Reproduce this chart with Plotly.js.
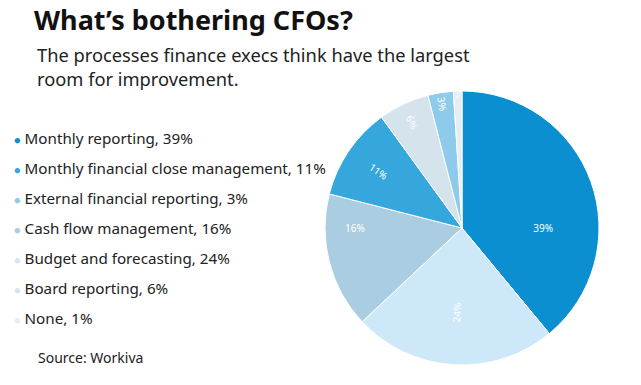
<!DOCTYPE html>
<html>
<head>
<meta charset="utf-8">
<script src="https://cdn.plot.ly/plotly-3.0.1.min.js"></script>
<style>html,body{margin:0;padding:0;background:#fff;}#chart{width:641px;height:385px;}</style>
</head>
<body>
<div id="chart"></div>
<script>
// Data (legend order as in the reference)
const categories = [
  "Monthly reporting",
  "Monthly financial close management",
  "External financial reporting",
  "Cash flow management",
  "Budget and forecasting",
  "Board reporting",
  "None"
];
const shares = [39, 11, 3, 16, 24, 6, 1];
const colors = ["#0b8fd1", "#36a7dd", "#8ecbea", "#abcde2", "#cde8f8", "#d5e3ec", "#e3edf3"];
const subtitleLines = ["The processes finance execs think have the largest", "room for improvement."];

const W = 641, H = 385;
const FONT = "'Noto Sans', Lato, sans-serif";

const pie = {
  type: "pie",
  labels: categories,
  values: shares,
  marker: { colors: colors, line: { color: "#ffffff", width: 1 } },
  sort: true,
  direction: "clockwise",
  rotation: 0,
  textinfo: "percent",
  textposition: "inside",
  insidetextorientation: "radial",
  textfont: { color: "#ffffff", size: 10, family: FONT },
  domain: { x: [325 / W, 599 / W], y: [(H - 365) / H, (H - 91) / H] },
  showlegend: false,
  hoverinfo: "label+percent"
};

const annotations = [];
// Subtitle (two lines, one text block)
annotations.push({
  xref: "paper", yref: "paper", x: 35 / W, y: 1 - 67 / H,
  xanchor: "left", yanchor: "middle", align: "left", showarrow: false,
  text: subtitleLines.join("<br>"),
  font: { family: FONT, size: 18.3, color: "#222222" }
});
// Legend built from the data arrays
categories.forEach((c, i) => {
  annotations.push({
    xref: "paper", yref: "paper", x: 12 / W, y: 1 - (138 + i * 30) / H,
    xanchor: "left", yanchor: "middle", align: "left", showarrow: false,
    text: "<span style='color:" + colors[i] + ";font-size:11px'>●</span> " + c + ", " + shares[i] + "%",
    font: { family: FONT, size: 15.2, color: "#222222" }
  });
});
// Source
annotations.push({
  xref: "paper", yref: "paper", x: 36 / W, y: 1 - 357 / H,
  xanchor: "left", yanchor: "middle", align: "left", showarrow: false,
  text: "Source: Workiva",
  font: { family: FONT, size: 14, color: "#222222" }
});

const layout = {
  width: W, height: H,
  margin: { l: 0, r: 0, t: 0, b: 0 },
  paper_bgcolor: "#ffffff",
  plot_bgcolor: "#ffffff",
  title: {
    text: "<b>What’s bothering CFOs?</b>",
    x: 34 / W, xanchor: "left", xref: "paper",
    y: 1 - 21 / H, yanchor: "middle", yref: "container",
    font: { family: FONT, size: 27, color: "#111111" }
  },
  annotations: annotations
};

Plotly.newPlot("chart", [pie], layout, { displayModeBar: false, staticPlot: true });
</script>
</body>
</html>
